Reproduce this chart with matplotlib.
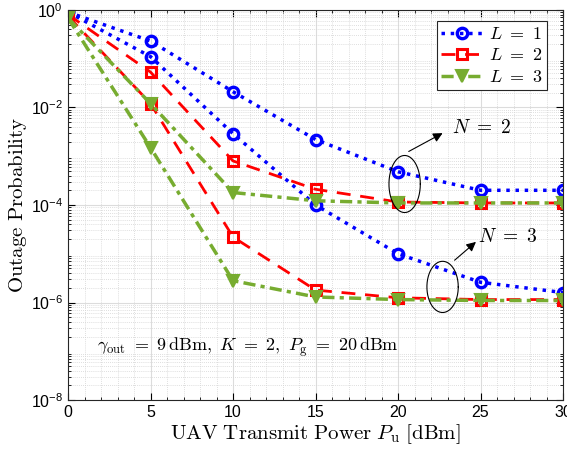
import matplotlib
matplotlib.use('Agg')
import numpy as np
import matplotlib.pyplot as plt
from matplotlib.ticker import FixedLocator, LogLocator, NullFormatter, MultipleLocator
from matplotlib import rcParams

rcParams['mathtext.fontset'] = 'cm'
rcParams['font.family'] = 'Liberation Sans'

# data
power_dbm = [0, 5, 10, 15, 20, 25, 30]

l1_n2 = [0.9, 0.23, 0.021, 0.0022, 4.8e-4, 2.0e-4, 2.0e-4]
l1_n3 = [0.9, 0.11, 0.0029, 1.0e-4, 1.0e-5, 2.6e-6, 1.6e-6]
l2_n2 = [0.8, 0.053, 8.0e-4, 2.1e-4, 1.15e-4, 1.1e-4, 1.1e-4]
l2_n3 = [0.75, 0.012, 2.2e-5, 1.8e-6, 1.25e-6, 1.15e-6, 1.15e-6]
l3_n2 = [0.68, 0.012, 1.8e-4, 1.22e-4, 1.1e-4, 1.1e-4, 1.1e-4]
l3_n3 = [0.68, 0.0015, 2.8e-6, 1.3e-6, 1.15e-6, 1.1e-6, 1.1e-6]

y_ticks = [1e-8, 1e-6, 1e-4, 1e-2, 1e0]
y_tick_labels = ['-8', '-6', '-4', '-2', '0']
x_ticks = [0, 5, 10, 15, 20, 25, 30]

blue = '#0000FF'
red = '#FF0000'
green = '#77AC30'

fig = plt.figure(figsize=(5.67, 4.5), dpi=100)
ax = fig.add_axes([0.12, 0.111, 0.873, 0.867])

blue_kw = dict(color=blue, ls=':', lw=2.5, marker='o', ms=7.5, mfc='none', mew=2.4)
red_kw = dict(color=red, ls=(0, (5, 3.5)), lw=2.0, marker='s', ms=6.5, mfc='none', mew=2.2)
green_kw = dict(color=green, ls=(0, (3.5, 1.5, 1.2, 1.5)), lw=2.5, marker='v', ms=8, mfc=green, mew=1.5)

ax.semilogy(power_dbm, l1_n2, label=r'$L\ =\ 1$', **blue_kw)
ax.semilogy(power_dbm, l1_n3, **blue_kw)
ax.semilogy(power_dbm, l2_n2, label=r'$L\ =\ 2$', **red_kw)
ax.semilogy(power_dbm, l2_n3, **red_kw)
ax.semilogy(power_dbm, l3_n2, label=r'$L\ =\ 3$', **green_kw)
ax.semilogy(power_dbm, l3_n3, **green_kw)

ax.set_xlim(0, 30)
ax.set_ylim(1e-8, 1e0)
ax.xaxis.set_major_locator(FixedLocator(x_ticks))
ax.xaxis.set_minor_locator(MultipleLocator(1))
ax.yaxis.set_major_locator(FixedLocator(y_ticks))
ax.set_yticklabels([r'$\mathregular{10^{%s}}$' % s for s in y_tick_labels])
ax.yaxis.set_minor_locator(LogLocator(base=10, subs=range(2, 10), numticks=20))
ax.yaxis.set_minor_formatter(NullFormatter())

ax.tick_params(which='both', direction='in', top=True, right=True, labelsize=11.5)
ax.tick_params(which='major', length=5)
ax.tick_params(which='minor', length=2.5)
ax.grid(which='major', color='#dcdcdc', lw=0.8, ls='-')
ax.grid(which='minor', color='#d4d4d4', lw=0.6, ls=(0, (1, 1.5)))
ax.set_axisbelow(True)
for sp in ax.spines.values():
    sp.set_color('#262626')

ax.set_xlabel(r'$\mathrm{UAV\ Transmit\ Power}\ P_{\mathrm{u}}\ \mathrm{[dBm]}$', fontsize=15, labelpad=2)
ax.set_ylabel(r'$\mathrm{Outage\ Probability}$', fontsize=15, labelpad=1)

leg = ax.legend(loc='upper right', bbox_to_anchor=(0.975, 0.98), fontsize=13,
                fancybox=False, edgecolor='#262626', framealpha=1,
                handlelength=2.3, borderpad=0.25, labelspacing=0.25, handletextpad=0.35,
                borderaxespad=0.2)
leg.get_frame().set_linewidth(0.8)


def add_ellipse(xc, logy, w, h_dec):
    t = np.linspace(0, 2 * np.pi, 200)
    xs = xc + w / 2 * np.cos(t)
    ys = 10 ** (logy + h_dec / 2 * np.sin(t))
    ax.plot(xs, ys, color='black', lw=0.8)


add_ellipse(20.4, -3.57, 1.9, 1.17)
add_ellipse(22.7, -5.68, 1.9, 1.05)

ax.annotate('', xy=(22.85, 10**-2.5), xytext=(20.5, 10**-2.93),
            arrowprops=dict(arrowstyle='-|>', color='black', lw=0.8, mutation_scale=14))
ax.annotate('', xy=(24.85, 10**-4.72), xytext=(23.3, 10**-5.17),
            arrowprops=dict(arrowstyle='-|>', color='black', lw=0.8, mutation_scale=14))
ax.text(23.3, 10**-2.42, r'$N\ =\ 2$', fontsize=14, va='center', ha='left')
ax.text(24.85, 10**-4.66, r'$N\ =\ 3$', fontsize=14, va='center', ha='left')

ax.text(1.76, 10**-6.91,
        r'$\gamma_{\mathrm{out}}\ =\ 9\,\mathrm{dBm},\ K\ =\ 2,\ P_{\mathrm{g}}\ =\ 20\,\mathrm{dBm}$',
        fontsize=13, va='center', ha='left')

fig.savefig('out.png', dpi=100)
